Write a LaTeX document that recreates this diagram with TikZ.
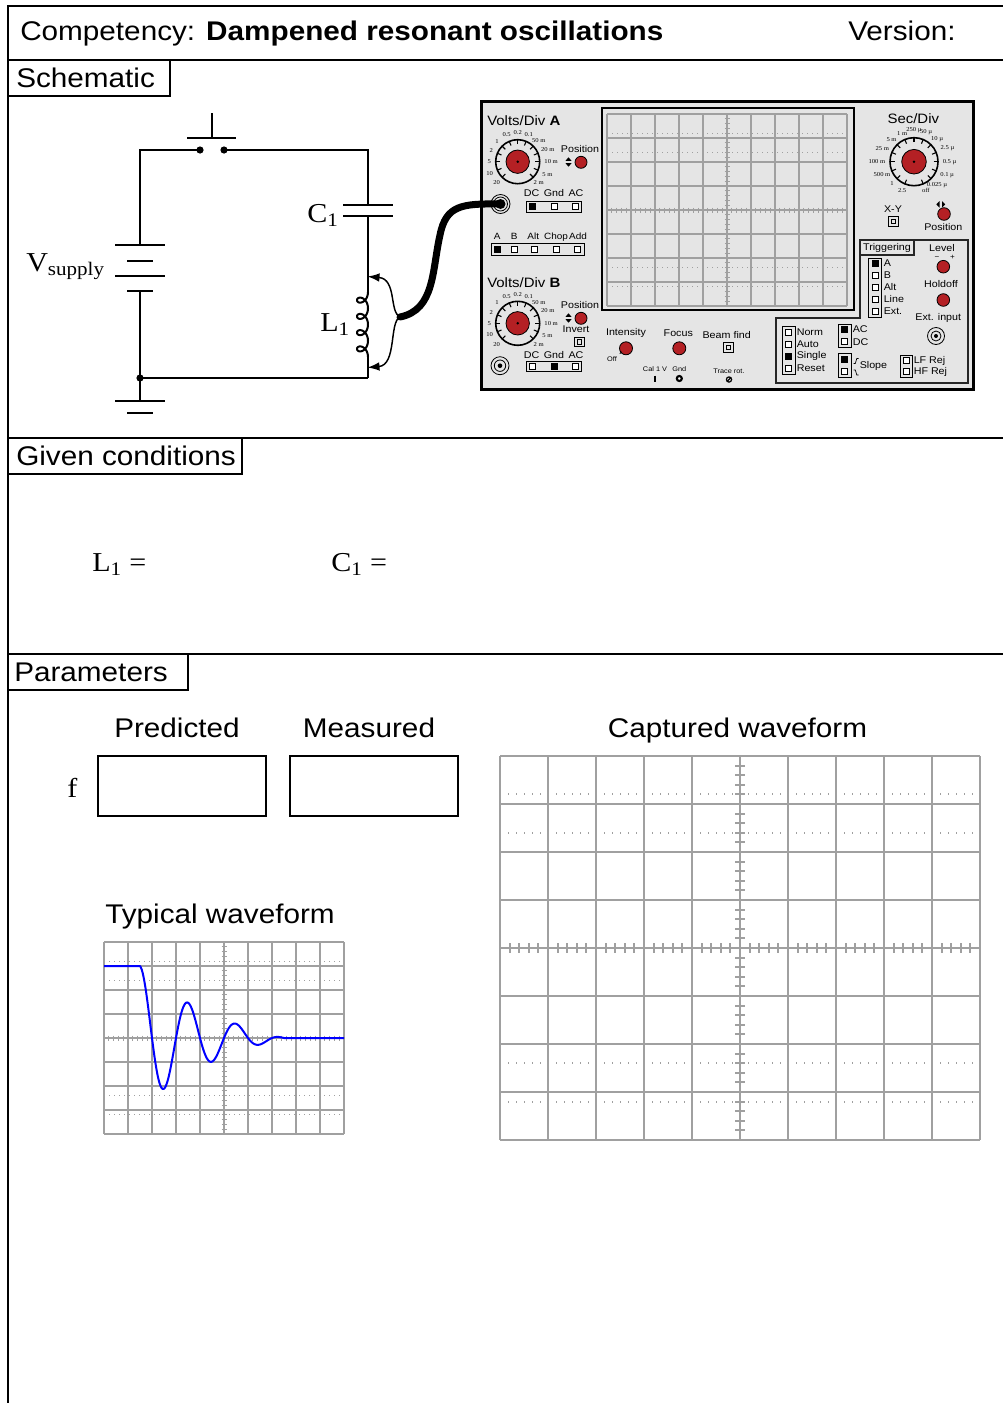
\documentclass[tikz,border=0pt]{standalone}
\usepackage{fontspec}
\setmainfont{Liberation Sans}[FakeStretch=1.1]
\newfontfamily\seriffam{Liberation Serif}[FakeStretch=1.1]
\usetikzlibrary{arrows.meta}
\definecolor{gridgray}{RGB}{160,160,160}
\definecolor{panelgray}{RGB}{229,229,229}
\definecolor{knobred}{RGB}{180,32,36}
\newcommand\setfsz[1]{\fontsize{#1}{#1}\selectfont}
% x0, y0, cell, line width, dot gap, tick half length
\newcommand\graticule[6]{%
  \begin{scope}[color=gridgray, line width=#4]
    \foreach \i in {0,...,10} \draw ({#1+\i*#3},#2) -- ({#1+\i*#3},{#2+8*#3});
    \foreach \j in {0,...,8} \draw (#1,{#2+\j*#3}) -- ({#1+10*#3},{#2+\j*#3});
    \foreach \f in {0.8,1.6,6.4,7.2} \draw[dash pattern=on 0.9pt off #5] (#1,{#2+\f*#3}) -- ({#1+10*#3},{#2+\f*#3});
    \foreach \k in {1,...,49} \draw ({#1+\k*#3/5},{#2+4*#3-#6}) -- ({#1+\k*#3/5},{#2+4*#3+#6});
    \foreach \k in {1,...,39} \draw ({#1+5*#3-#6},{#2+\k*#3/5}) -- ({#1+5*#3+#6},{#2+\k*#3/5});
  \end{scope}}
% x, y, ring radius, knob radius, label list
\newcommand\scopedial[5]{%
  \begin{scope}[shift={(#1,#2)}]
    \draw[line width=1.2pt] (0,0) circle (#3);
    \foreach \a/\t in #5 {
      \pgfmathsetmacro\anc{mod(\a+540,360)}
      \draw[line width=0.8pt] ({-\a}:{#3-4.5}) -- ({-\a}:{#3});
      \node[font=\seriffam\setfsz{4.5}, inner sep=0pt, anchor=\anc] at ({-\a}:{#3+4.5}) {\t};
    }
    \draw[knob] (0,0) circle (#4);
    \fill (0,0) circle (1.4);
  \end{scope}}
\newcommand\pbtn[3]{\draw[line width=0.5pt, fill=#3] ({#1-3},{#2-3}) rectangle ({#1+3},{#2+3});}
\newcommand\sqbtn[2]{\draw[line width=0.6pt] ({#1-4.7},{#2-4.7}) rectangle ({#1+4.7},{#2+4.7});
  \draw[line width=0.6pt] ({#1-2.3},{#2-2.3}) rectangle ({#1+2.3},{#2+2.3});}
\def\vdlabels{225/20,202.5/10,180/5,157.5/2,135/1,112.5/0.5,90/0.2,67.5/0.1,45/50 m,22.5/20 m,0/10 m,-22.5/5 m,-45/2 m}
\def\sdlabels{247.5/2.5,225/1,202.5/500 m,180/100 m,157.5/25 m,135/5 m,112.5/1 m,90/250 µ,67.5/50 µ,45/10 µ,22.5/2.5 µ,0/0.5 µ,-22.5/0.1 µ,-45/0.025 µ,-67.5/off}
\begin{document}
\begin{tikzpicture}[x=0.75pt,y=-0.75pt,
  frame/.style={line width=1.5pt},
  wire/.style={line width=1.5pt},
  knob/.style={fill=knobred, draw=black, line width=0.6pt},
  head/.style={font=\setfsz{20.25}, inner sep=0},
  lbl/.style={font=\seriffam\setfsz{20.5}, inner sep=0, anchor=base west},
  small/.style={font=\setfsz{7.3}, inner sep=0},
  tiny/.style={font=\setfsz{5}, inner sep=0},
  grp/.style={line width=0.7pt}]
\useasboundingbox (0,0) rectangle (1003,1403);
\fill[white] (0,0) rectangle (1003,1403);

% ---------- frame ----------
\draw[frame] (1003,6) -- (8,6) -- (8,1403);
\draw[frame] (8,60) -- (1003,60);
\draw[frame] (8,438) -- (1003,438);
\draw[frame] (8,654) -- (1003,654);
\draw[frame] (8,60) rectangle (170,96);
\draw[frame] (8,438) rectangle (242,474);
\draw[frame] (8,654) rectangle (188,690);

\node[head, anchor=base west] (title) at (20,40.5) {Competency: \textbf{Dampened resonant oscillations}};
\node[head, anchor=base west] (version) at (848,40.5) {Version:};
\node[head, anchor=base west] (schem) at (16,87.5) {Schematic};
\node[head, anchor=base west] (given) at (16,465.5) {Given conditions};
\node[head, anchor=base west] (params) at (14,681.5) {Parameters};

% ---------- schematic ----------
\coordinate (tl) at (140,150);
\coordinate (sw1) at (200,150);
\coordinate (sw2) at (224,150);
\coordinate (tr) at (368,150);
\coordinate (bl) at (140,378);
\coordinate (br) at (368,378);
\draw[wire] (sw1) -- (tl) -- (140,245);
\draw[wire] (115,245) -- (165,245);
\draw[wire] (127,260.5) -- (153,260.5);
\draw[wire] (115,276) -- (165,276);
\draw[wire] (127,291) -- (153,291);
\draw[wire] (140,291) -- (bl) -- (br);
\draw[wire] (sw2) -- (tr) -- (368,204.5);
\fill (sw1) circle (3.6);
\fill (sw2) circle (3.6);
\fill (bl) circle (3.6);
\draw[wire] (187,138) -- (236,138);
\draw[wire] (211.5,113) -- (211.5,138);
\draw[wire] (343,204.5) -- (393,204.5);
\draw[wire] (343,215.5) -- (393,215.5);
\draw[wire] (368,215.5) -- (368,292);
\draw[wire] plot[domain=0:25.1327, samples=260, variable=\t] ({362.5+5.5*cos(\t r)}, {292+2.587*\t+6*sin(\t r)});
\draw[wire] (368,357) -- (br);
\draw[wire] (bl) -- (140,401);
\draw[wire] (115,401) -- (165,401);
\draw[wire] (127,412.5) -- (153,412.5);

\node[lbl] (vs) at (26,271) {V\textsubscript{supply}};
\node[lbl] (c1) at (307,222) {C\textsubscript{1}};
\node[lbl] (l1) at (320,331) {L\textsubscript{1}};

% ---------- oscilloscope ----------
\draw[fill=panelgray, line width=2.25pt] (481.5,101.5) rectangle (973.5,389);
\draw[fill=panelgray, line width=1.5pt] (602,108) rectangle (854,310);
\graticule{607}{114}{24}{0.9pt}{2.85pt}{2.5}

% channel A
\node[font=\setfsz{10.2}, inner sep=0, anchor=west] (vda) at (487,121) {Volts/Div \textbf{A}};
\scopedial{517.7}{161.7}{22}{11.7}{\vdlabels}
\node[small] (posa) at (580,149.3) {Position};
\draw[knob] (581,162.3) circle (6);
\fill (565.5,160.8) -- (571.5,160.8) -- (568.5,157.3) -- cycle;
\fill (565.5,163.2) -- (571.5,163.2) -- (568.5,166.7) -- cycle;
\coordinate (bnca) at (500.5,204);
\draw[line width=0.6pt] (bnca) circle (9.5);
\draw[line width=0.6pt] (bnca) circle (7);
\node[small] at (531.5,193.5) {DC};
\node[small] at (554,193.5) {Gnd};
\node[small] at (576,193.5) {AC};
\draw[grp] (526.5,201.5) rectangle (581.5,212);
\pbtn{532.3}{206.8}{black}
\pbtn{554}{206.8}{white}
\pbtn{575.7}{206.8}{white}
\begin{scope}[every node/.style={font=\setfsz{6.8}, inner sep=0}]
\node at (497.3,236.7) {A};
\node at (514.3,236.7) {B};
\node at (533.3,236.7) {Alt};
\node at (556,236.7) {Chop};
\node at (578,236.7) {Add};
\end{scope}
\draw[grp] (491,243) rectangle (584.5,255);
\pbtn{497.3}{249}{black}
\pbtn{514.3}{249}{white}
\pbtn{534.3}{249}{white}
\pbtn{556.7}{249}{white}
\pbtn{577.7}{249}{white}

% channel B
\node[font=\setfsz{10.2}, inner sep=0, anchor=west] (vdb) at (487,283) {Volts/Div \textbf{B}};
\scopedial{517.7}{323.3}{22}{11.7}{\vdlabels}
\node[small] (posb) at (580,305) {Position};
\draw[knob] (581,318.3) circle (6);
\fill (565.5,316.8) -- (571.5,316.8) -- (568.5,313.3) -- cycle;
\fill (565.5,319.2) -- (571.5,319.2) -- (568.5,322.7) -- cycle;
\node[small] (inv) at (576,329.5) {Invert};
\sqbtn{579.5}{341.7}
\draw[line width=0.6pt] (500,365.7) circle (9);
\draw[line width=0.6pt] (500,365.7) circle (5.7);
\fill (500,365.7) circle (2.3);
\node[small] at (531.5,355.5) {DC};
\node[small] at (554,355.5) {Gnd};
\node[small] at (576,355.5) {AC};
\draw[grp] (526.5,361.5) rectangle (581.5,371.5);
\pbtn{532.3}{366.5}{white}
\pbtn{554}{366.5}{black}
\pbtn{575.7}{366.5}{white}

% bottom controls
\node[small] (intens) at (626,333.3) {Intensity};
\draw[knob] (626,348.3) circle (6.5);
\draw[line width=0.6pt] (619.8,353.6) -- (621.8,351.8);
\node[tiny] at (612,359.5) {Off};
\node[small] (focus) at (678.3,332.7) {Focus};
\draw[knob] (679.3,348.3) circle (6.5);
\node[small] (beam) at (726.7,335) {Beam find};
\sqbtn{728.3}{347.5}
\node[tiny] at (655,369.3) {Cal 1 V};
\draw[line width=1.2pt] (655,375.5) -- (655,381.5);
\node[tiny] at (679.3,369.3) {Gnd};
\draw[line width=1.6pt, fill=white] (679.3,378.5) circle (2.5);
\node[tiny] at (729,371) {Trace rot.};
\draw[line width=0.9pt] (729,379.5) circle (2.6);
\draw[line width=0.9pt] (727,381.5) -- (731,377.5);

% timebase
\node[font=\setfsz{10.2}, inner sep=0] (secdiv) at (913.3,118.5) {Sec/Div};
\scopedial{914}{161.7}{24}{12.3}{\sdlabels}
\node[small] (xy) at (893,209.5) {X-Y};
\sqbtn{893.5}{221.5}
\fill (939.5,201) -- (939.5,207.6) -- (936.3,204.3) -- cycle;
\fill (942,201) -- (942,207.6) -- (945.2,204.3) -- cycle;
\draw[knob] (944,214) circle (6.3);
\node[small] (posh) at (943.3,226.7) {Position};

% triggering
\draw[line width=0.8pt, draw=black!85] (860,240) -- (968,240) -- (968,383) -- (776,383) -- (776,318) -- (860,318) -- cycle;
\draw[line width=0.8pt, draw=black!85] (860,240) rectangle (914,255);
\node[small] (trig) at (887,247.7) {Triggering};
\node[small] (level) at (942,248.5) {Level};
\node[font=\setfsz{5.5}, inner sep=0] at (937,258) {−};
\node[font=\setfsz{5.5}, inner sep=0] at (952.5,257.5) {+};
\draw[knob] (943.3,266.7) circle (6.3);
\node[small] (hold) at (941,284) {Holdoff};
\draw[knob] (943.3,300) circle (6.3);
\node[small] (ext) at (938.3,317.7) {Ext. input};
\draw[line width=0.6pt] (936,336) circle (8.5);
\draw[line width=0.6pt] (936,336) circle (5);
\fill (936,336) circle (2);

\draw[grp] (868.5,258.5) rectangle (881.5,317);
\foreach \yy/\tt/\ff in {263.5/A/black,275.5/B/white,287.5/Alt/white,299.5/Line/white,311.5/Ext./white} {
  \pbtn{875}{\yy}{\ff}
  \node[small, anchor=west] at (883.5,\yy) {\tt};
}
\draw[grp] (782,326.5) rectangle (795,374.5);
\foreach \yy/\tt/\ff in {332/Norm/white,344/Auto/white,356/Single/black,368/Reset/white} {
  \pbtn{788.5}{\yy}{\ff}
  \node[small, anchor=west] at (796.5,\yy) {\tt};
}
\draw[grp] (838.5,324) rectangle (851,347.5);
\pbtn{844.7}{329.5}{black}
\pbtn{844.7}{341.7}{white}
\node[small, anchor=west] at (852.5,329.5) {AC};
\node[small, anchor=west] at (852.5,341.7) {DC};
\draw[grp] (838.5,353) rectangle (851,377);
\pbtn{844.7}{359}{black}
\pbtn{844.7}{371.5}{white}
\draw[line width=0.5pt] (853.5,363.5) -- (855.3,363.5) -- (856.8,358.5) -- (858.6,358.5);
\draw[line width=0.5pt] (853.5,370) -- (855.3,370) -- (856.8,375) -- (858.6,375);
\node[small, anchor=west] at (859.5,365.5) {Slope};
\draw[grp] (900,355) rectangle (912,377);
\pbtn{906}{360.5}{white}
\pbtn{906}{371.7}{white}
\node[small, anchor=west] at (913.5,360.5) {LF Rej};
\node[small, anchor=west] at (913.5,371.7) {HF Rej};

% probe cable and brace
\coordinate (brace) at (400,317);
\draw[line width=1.1pt, -{Latex[length=9pt,width=6.5pt]}] (brace) .. controls (389,312) and (397,279) .. (367.5,276.5);
\draw[line width=1.1pt, -{Latex[length=9pt,width=6.5pt]}] (brace) .. controls (389,322) and (397,365) .. (367.5,367.5);
\draw[line width=5.25pt, line cap=round] (brace) .. controls (435,310) and (432,270) .. (440,235) .. controls (446,205) and (462,203.5) .. (bnca);
\fill (bnca) circle (5);

% ---------- given conditions ----------
\node[lbl] (lval) at (92,571.5) {L\textsubscript{1} =};
\node[lbl] (cval) at (331,571.5) {C\textsubscript{1} =};

% ---------- parameters ----------
\node[head, anchor=base] (pred) at (177,737.5) {Predicted};
\node[head, anchor=base] (meas) at (369,737.5) {Measured};
\node[head, anchor=base] (capt) at (737.5,737.5) {Captured waveform};
\node[lbl] (f) at (67,797) {f};
\draw[frame] (98,756) rectangle (266,816);
\draw[frame] (290,756) rectangle (458,816);

\graticule{500}{756}{48}{1.5pt}{5.1pt}{5}

\node[head, anchor=base] (typ) at (220,923.5) {Typical waveform};
\graticule{104}{942}{24}{0.95pt}{2.85pt}{2.5}
\draw[blue, line width=1.5pt, line join=round] (104,966) -- (140,966) -- plot[domain=0:6, samples=160, variable=\x] ({140+24*\x}, {1038-72*cos(180*\x)*exp(-0.35*\x)*(1-(\x/6)^4)}) -- (344,1038);
\end{tikzpicture}
\end{document}
